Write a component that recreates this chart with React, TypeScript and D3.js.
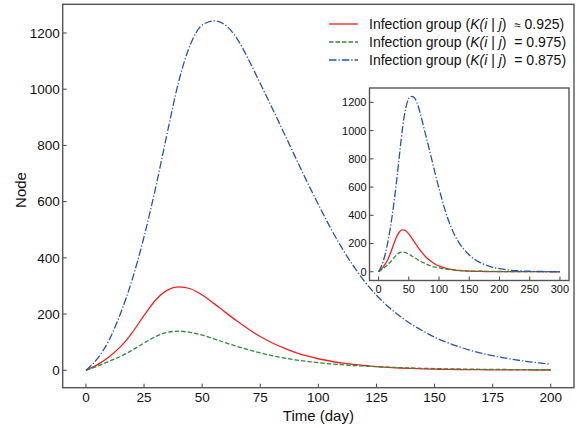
import * as d3 from "d3";
import React, { useRef, useEffect } from "react";

// days sampled every 5 up to 200, then every 10 for the inset tail
const days = [0, 5, 10, 15, 20, 25, 30, 35, 40, 45, 50, 55, 60, 65, 70, 75, 80, 85, 90, 95, 100,
  105, 110, 115, 120, 125, 130, 135, 140, 145, 150, 155, 160, 165, 170, 175, 180, 185, 190, 195, 200,
  210, 220, 230, 240, 250, 260, 270, 280, 290, 300];

const red925 = [0, 20, 48, 85, 135, 195, 250, 285, 297, 290, 268, 238, 206, 175, 146, 120, 98, 80, 64, 51, 41,
  33, 26, 21, 17, 13, 10, 8, 6.5, 5, 4, 3.3, 2.8, 2.4, 2, 1.7, 1.5, 1.3, 1.1, 1, 0.9,
  0.7, 0.6, 0.5, 0.4, 0.3, 0.3, 0.2, 0.2, 0.1, 0.1];

const green975 = [0, 15, 32, 50, 72, 97, 120, 135, 139, 135, 125, 112, 98, 85, 73, 62, 52, 44, 37, 32, 27,
  23, 20, 17, 15, 13, 11, 9.5, 8, 7, 6, 5, 4.5, 4, 3.5, 3.1, 2.8, 2.5, 2.2, 2, 1.8,
  1.5, 1.2, 1, 0.8, 0.7, 0.6, 0.5, 0.4, 0.3, 0.3];

const blue875 = [0, 42, 108, 205, 325, 475, 650, 845, 1030, 1160, 1228, 1243, 1228, 1180, 1105, 1020, 935, 848, 760, 673, 590,
  510, 437, 372, 315, 267, 227, 193, 164, 140, 118, 100, 85, 72, 61, 52, 44, 37, 31, 26, 22,
  15, 10, 7, 5, 3.5, 2.5, 1.8, 1.2, 0.8, 0.5];

const mainXTicks = [0, 25, 50, 75, 100, 125, 150, 175, 200];
const yTicks = [0, 200, 400, 600, 800, 1000, 1200];
const insetXTicks = [0, 50, 100, 150, 200, 250, 300];

const legendRows = [
  { sign: "\u2248", val: "0.925" },
  { sign: "=", val: "0.975" },
  { sign: "=", val: "0.875" },
];

const series = [
  { vals: red925, color: "#f52020", dash: null },
  { vals: green975, color: "#2f8a3a", dash: "4.5,2" },
  { vals: blue875, color: "#2454b0", dash: "7.5,2,1.3,2" },
];

const FONT = "Liberation Sans, Arial, sans-serif";

function App() {
  const ref = useRef(null);

  useEffect(() => {
    const svg = d3.select(ref.current);
    svg.selectAll("*").remove();

    const drawAxes = (g, x, y, xt, yt, fs, clipId, maxDay) => {
      const [x0, x1] = x.range();
      const [y0, y1] = y.range();

      g.append("rect").attr("x", x0).attr("y", y1).attr("width", x1 - x0).attr("height", y0 - y1)
        .attr("fill", "white");

      g.append("clipPath").attr("id", clipId).append("rect")
        .attr("x", x0).attr("y", y1).attr("width", x1 - x0).attr("height", y0 - y1);

      const pts = days.map((d, i) => i).filter(i => days[i] <= maxDay);
      series.forEach(s => {
        const line = d3.line()
          .x(i => x(days[i]))
          .y(i => y(s.vals[i]))
          .curve(d3.curveMonotoneX);
        g.append("path")
          .attr("d", line(pts))
          .attr("fill", "none")
          .attr("stroke", s.color)
          .attr("stroke-width", 1.3)
          .attr("stroke-dasharray", s.dash)
          .attr("clip-path", `url(#${clipId})`);
      });

      // ticks pointing in
      xt.forEach(t => {
        g.append("line").attr("x1", x(t)).attr("x2", x(t)).attr("y1", y0).attr("y2", y0 - 4)
          .attr("stroke", "#444").attr("stroke-width", 1);
        g.append("text").attr("x", x(t)).attr("y", y0 + 4 + fs * 0.75)
          .attr("text-anchor", "middle").style("font-size", fs + "px").style("font-family", FONT)
          .attr("fill", "#111").text(t);
      });
      yt.forEach(t => {
        g.append("line").attr("x1", x0).attr("x2", x0 + 4).attr("y1", y(t)).attr("y2", y(t))
          .attr("stroke", "#444").attr("stroke-width", 1);
        g.append("text").attr("x", x0 - 3).attr("y", y(t) + fs * 0.36)
          .attr("text-anchor", "end").style("font-size", fs + "px").style("font-family", FONT)
          .attr("fill", "#111").text(t);
      });

      g.append("rect").attr("x", x0).attr("y", y1).attr("width", x1 - x0).attr("height", y0 - y1)
        .attr("fill", "none").attr("stroke", "#555").attr("stroke-width", 1.4);
    };

    // main plot
    const x = d3.scaleLinear().domain([-10, 210]).range([62.7, 574]);
    const y = d3.scaleLinear().domain([-62, 1302]).range([387.7, 4.3]);
    const main = svg.append("g");
    drawAxes(main, x, y, mainXTicks, yTicks, 13.5, "clipMain", 200);

    main.append("text").attr("x", (62.7 + 574) / 2).attr("y", 421)
      .attr("text-anchor", "middle").style("font-size", "15px").style("font-family", FONT)
      .attr("fill", "#111").text("Time (day)");
    main.append("text").attr("transform", "translate(26,190) rotate(-90)")
      .attr("text-anchor", "middle").style("font-size", "15px").style("font-family", FONT)
      .attr("fill", "#111").text("Node");

    // legend
    const leg = svg.append("g");
    legendRows.forEach((r, i) => {
      const s = series[i];
      const ly = 24 + i * 18;
      leg.append("line").attr("x1", 329).attr("x2", 358).attr("y1", ly).attr("y2", ly)
        .attr("stroke", s.color).attr("stroke-width", 1.3).attr("stroke-dasharray", s.dash);
      const t = leg.append("text").attr("x", 369).attr("y", ly + 5)
        .style("font-size", "14px").style("font-family", FONT).attr("fill", "#111");
      t.append("tspan").text("Infection group (");
      t.append("tspan").style("font-style", "italic").text("K(i");
      t.append("tspan").text(" | ");
      t.append("tspan").style("font-style", "italic").text("j");
      t.append("tspan").text(")\u00a0\u00a0");
      t.append("tspan").style("font-size", r.sign === "=" ? "14px" : "11.5px").text(r.sign);
      t.append("tspan").text(" " + r.val + ")");
    });

    // inset
    const xi = d3.scaleLinear().domain([-15, 315]).range([369.5, 569]);
    const yi = d3.scaleLinear().domain([-62, 1302]).range([280.5, 88]);
    const inset = svg.append("g");
    drawAxes(inset, xi, yi, insetXTicks, yTicks, 11, "clipInset", 300);
  }, []);

  return (
    <div className="chart">
      <svg ref={ref} width={577} height={428}
        style={{ position: "absolute", left: 0, top: 0, background: "white" }}>
      </svg>
    </div>
  );
}

export default App;
